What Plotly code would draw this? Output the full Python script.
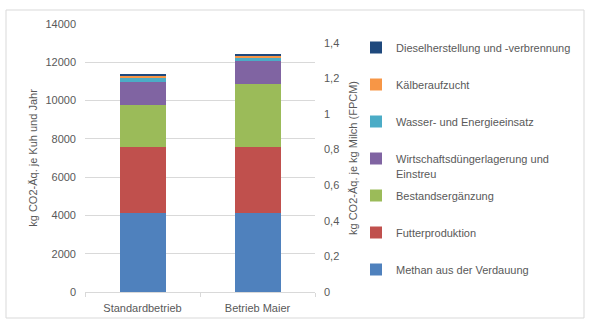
import plotly.graph_objects as go

categories = ["Standardbetrieb", "Betrieb Maier"]

series_names = [
    "Methan aus der Verdauung",
    "Futterproduktion",
    "Bestandsergänzung",
    "Wirtschaftsdüngerlagerung und",
    "Wasser- und Energieeinsatz",
    "Kälberaufzucht",
    "Dieselherstellung und -verbrennung",
]
methan = [4120, 4120]
futter = [3475, 3475]
bestand = [2158, 3263]
wirtschaft = [1210, 1212]
wasser = [210, 156]
kaelber = [105, 106]
diesel = [105, 105]
series_values = [methan, futter, bestand, wirtschaft, wasser, kaelber, diesel]
colors = ["#4F81BD", "#C0504D", "#9BBB59", "#8064A2", "#4BACC6", "#F79646", "#1F497D"]

left_ticks = [0, 2000, 4000, 6000, 8000, 10000, 12000, 14000]
right_tickvals = [0, 0.2, 0.4, 0.6, 0.8, 1.0, 1.2, 1.4]
right_ticktext = ["0", "0,2", "0,4", "0,6", "0,8", "1", "1,2", "1,4"]

FONT = "Liberation Sans"
FS = 11
GRAY = "#595959"
GRID = "#D9D9D9"

fig = go.Figure()
for i, (name, vals, col) in enumerate(zip(series_names, series_values, colors)):
    fig.add_trace(go.Bar(
        x=categories, y=vals, name=name, marker=dict(color=col, line=dict(width=0)),
        legendgroup=f"g{i}", legendrank=1000 - i,
    ))
# empty trace so the secondary axis is drawn
fig.add_trace(go.Scatter(x=categories, y=[None, None], yaxis="y2",
                         showlegend=False, hoverinfo="skip", mode="markers"))

L, R, T, B = 85, 276, 24, 40
W, H = 591, 332
pw = W - L - R
ph = H - T - B

def px(x):
    return (x - L) / pw

def py(y):
    return 1 - (y - T) / ph

fig.update_layout(
    width=W, height=H,
    margin=dict(l=L, r=R, t=T, b=B, pad=0),
    barmode="stack", bargap=0.6,
    plot_bgcolor="white", paper_bgcolor="white",
    font=dict(family=FONT, size=FS, color=GRAY),
    showlegend=True,
    legend=dict(
        x=px(356), xanchor="left", y=py(33), yanchor="top",
        traceorder="grouped", tracegroupgap=18,
        font=dict(family=FONT, size=FS, color=GRAY),
        bgcolor="rgba(0,0,0,0)",
    ),
    xaxis=dict(
        showline=True, linecolor=GRID, linewidth=1,
        ticks="outside", tickson="boundaries", ticklen=4, tickcolor=GRID,
        ticklabelstandoff=6,
        tickfont=dict(family=FONT, size=FS, color=GRAY),
    ),
    yaxis=dict(
        range=[0, 14000], tickvals=left_ticks, tickformat="d",
        showgrid=True, gridcolor=GRID, gridwidth=1, zeroline=False,
        ticklabelstandoff=8,
        tickfont=dict(family=FONT, size=FS, color=GRAY),
        title=dict(text="kg CO2-Äq. je Kuh und Jahr", standoff=5,
                   font=dict(family=FONT, size=FS, color=GRAY)),
    ),
    yaxis2=dict(
        overlaying="y", side="right", range=[0, 1.506],
        tickvals=right_tickvals, ticktext=right_ticktext,
        showgrid=False, zeroline=False, showline=False,
        ticklabelstandoff=8,
        tickfont=dict(family=FONT, size=FS, color=GRAY),
        title=dict(text="kg CO2-Äq. je kg Milch (FPCM)", standoff=11,
                   font=dict(family=FONT, size=FS, color=GRAY)),
    ),
    shapes=[dict(type="rect", xref="paper", yref="paper",
                 x0=px(6), x1=px(584), y0=py(318), y1=py(10),
                 line=dict(color=GRID, width=1), fillcolor="rgba(0,0,0,0)", layer="below")],
    annotations=[dict(text="Einstreu", xref="paper", yref="paper",
                      x=px(394), y=py(174), xanchor="left", yanchor="middle",
                      showarrow=False, font=dict(family=FONT, size=FS, color=GRAY))],
)

fig.write_html("out.html")
